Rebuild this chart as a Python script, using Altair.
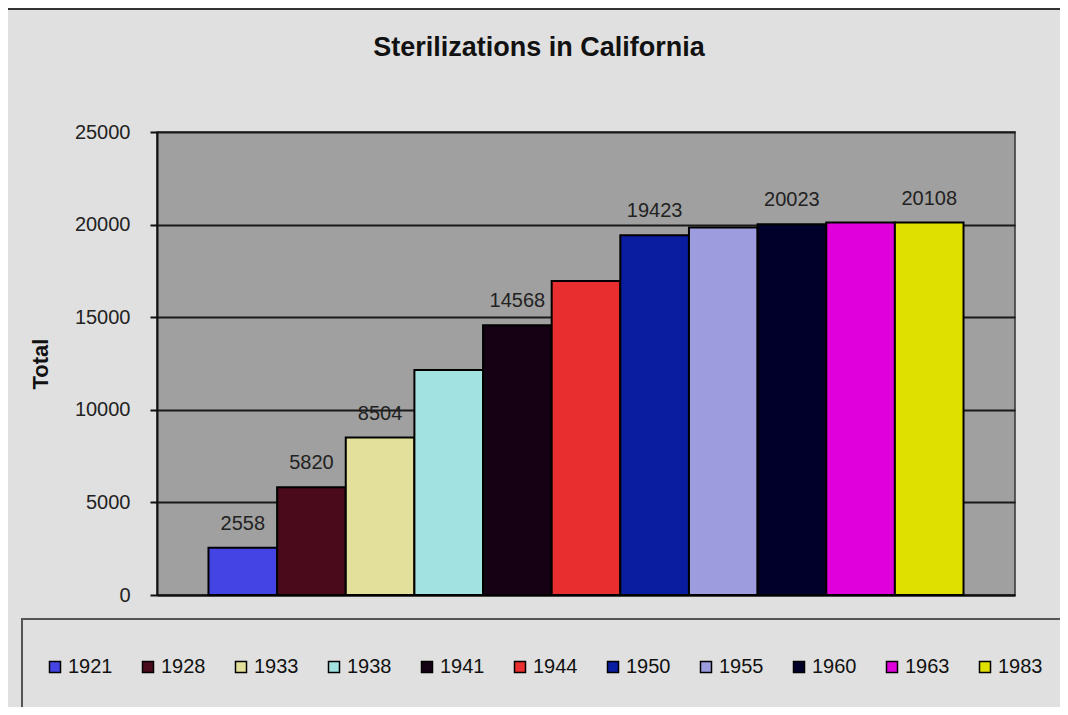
import altair as alt
import pandas as pd

years = ["1921", "1928", "1933", "1938", "1941", "1944", "1950", "1955", "1960", "1963", "1983"]
totals = [2558, 5820, 8504, 12150, 14568, 16950, 19423, 19850, 20023, 20108, 20108]
colors = ["#4444E4", "#4B0A1C", "#E2E09A", "#A2E2E0", "#150014", "#E82E2E",
          "#0A1CA0", "#9C9CDE", "#00002A", "#E000DC", "#E0E000"]
labeled_years = ["1921", "1928", "1933", "1941", "1950", "1960", "1983"]
y_ticks = [0, 5000, 10000, 15000, 20000, 25000]

df = pd.DataFrame({"year": years, "total": totals})
df["label"] = [str(t) if yr in labeled_years else "" for yr, t in zip(years, totals)]

FONT = "Liberation Sans"

x_enc = alt.X(
    "year:N", sort=years,
    scale=alt.Scale(paddingInner=0, paddingOuter=0.75),
    axis=alt.Axis(labels=False, ticks=False, title=None, domainColor="#111", domainWidth=2),
)
y_enc = alt.Y(
    "total:Q",
    scale=alt.Scale(domain=[0, 25000], nice=False),
    axis=alt.Axis(
        values=y_ticks, format="d", title="Total", labelFontSize=20, labelColor="#222",
        labelFont=FONT, labelPadding=20, tickSize=7, tickColor="#111", tickWidth=2,
        domainColor="#111", domainWidth=2,
        grid=True, gridColor="#1a1a1a", gridWidth=2,
        titleFontSize=22, titleFontWeight="bold", titleFont=FONT, titleColor="#111",
        titlePadding=22,
    ),
)

bars = alt.Chart(df).mark_bar(stroke="black", strokeWidth=2).encode(
    x=x_enc,
    y=y_enc,
    fill=alt.Fill(
        "year:N", sort=years,
        scale=alt.Scale(domain=years, range=colors),
        legend=alt.Legend(
            title=None, orient="none", legendX=-112, legendY=525, direction="horizontal",
            columns=11, columnPadding=25, symbolType="square", symbolSize=121,
            symbolStrokeColor="black", symbolStrokeWidth=1.5, labelOffset=3,
            labelFontSize=20, labelFont=FONT, labelColor="#111", padding=0,
        ),
    ),
)

labels = alt.Chart(df).mark_text(
    dy=-18, baseline="alphabetic", fontSize=20, font=FONT, color="#222"
).encode(x=x_enc, y=y_enc, text="label:N")

legend_box = alt.Chart(alt.Data(values=[{"k": 1}])).mark_rect(
    fill="transparent", stroke="#555", strokeWidth=2
).encode(x=alt.value(-135), x2=alt.value(910), y=alt.value(487), y2=alt.value(600))

top_line = alt.Chart(alt.Data(values=[{"k": 1}])).mark_rule(
    stroke="#333", strokeWidth=2
).encode(x=alt.value(-150), x2=alt.value(910), y=alt.value(-123))

chart = alt.layer(legend_box, top_line, bars, labels).properties(
    width=858,
    height=463,
    autosize=alt.AutoSizeParams(type="none"),
    padding={"left": 149, "top": 124, "right": 45, "bottom": 112},
    title=alt.TitleParams(
        "Sterilizations in California", fontSize=27, fontWeight="bold", font=FONT,
        color="#111", anchor="middle", dx=-47, offset=0, dy=54,
    ),
).configure(
    background="#E0E0E0",
    font=FONT,
).configure_view(
    fill="#A0A0A0", stroke="#333", strokeWidth=1.5
)

chart.save("out.html", embed_options={"renderer": "svg", "actions": False})
